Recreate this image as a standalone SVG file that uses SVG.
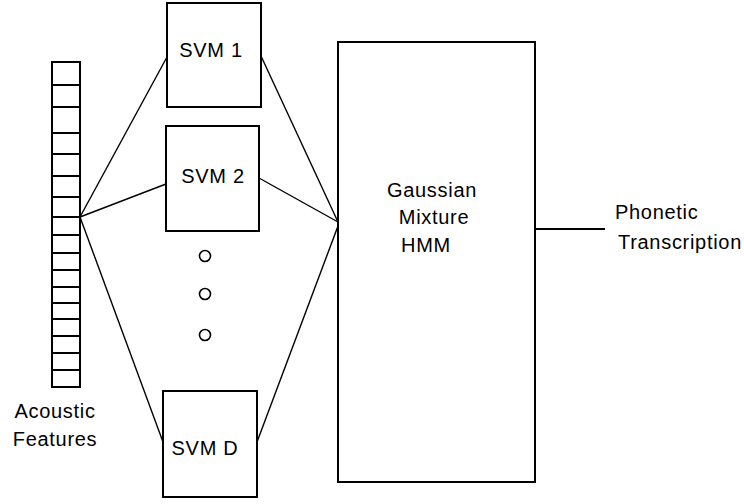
<svg xmlns="http://www.w3.org/2000/svg" width="744" height="504" viewBox="0 0 744 504">
  <style>
    .box { fill: #ffffff; stroke: #000000; stroke-width: 2; }
    .cell { fill: none; stroke: #000000; stroke-width: 2; }
    .wire { fill: none; stroke: #000000; stroke-width: 1.4; }
    .dot { fill: #ffffff; stroke: #000000; stroke-width: 1.6; }
    .lbl { font-family: "Liberation Sans", Arial, sans-serif; font-size: 20px; fill: #000000; letter-spacing: 0.7px; }
    .mid { text-anchor: middle; }
  </style>
  <rect width="744" height="504" fill="#ffffff"/>

  <!-- feature vector column -->
  <g id="acoustic-features">
    <rect class="cell" x="52" y="62" width="28" height="325"/>
    <path class="cell" d="M52 85H80M52 107H80M52 133H80M52 154H80M52 176H80M52 197H80M52 217H80M52 235H80M52 253H80M52 270H80M52 287H80M52 303H80M52 319H80M52 336H80M52 353H80M52 370H80"/>
    <text class="lbl mid" x="55" y="418">Acoustic</text>
    <text class="lbl mid" x="55" y="446">Features</text>
  </g>

  <!-- connectors -->
  <g id="connectors">
    <line class="wire" x1="80" y1="217" x2="167" y2="57"/>
    <line class="wire" x1="80" y1="217" x2="166" y2="184"/>
    <line class="wire" x1="80" y1="217" x2="163" y2="442"/>
    <line class="wire" x1="261" y1="56" x2="338" y2="222"/>
    <line class="wire" x1="259" y1="178" x2="338" y2="222"/>
    <line class="wire" x1="257" y1="442" x2="338" y2="226"/>
    <line class="cell" x1="535" y1="229" x2="605" y2="229"/>
  </g>

  <g id="svm-1">
    <rect class="box" x="167" y="3" width="94" height="104"/>
    <text class="lbl mid" x="211" y="57">SVM 1</text>
  </g>

  <g id="svm-2">
    <rect class="box" x="166" y="126" width="93" height="105"/>
    <text class="lbl mid" x="213" y="183">SVM 2</text>
  </g>

  <!-- ellipsis between SVM 2 and SVM D -->
  <g id="ellipsis">
    <circle class="dot" cx="205" cy="256" r="5.5"/>
    <circle class="dot" cx="205" cy="294" r="5.5"/>
    <circle class="dot" cx="205" cy="335" r="5.5"/>
  </g>

  <g id="svm-d">
    <rect class="box" x="163" y="391" width="94" height="106"/>
    <text class="lbl mid" x="205" y="455">SVM D</text>
  </g>

  <g id="gmm-hmm">
    <rect class="box" x="338" y="42" width="197" height="440"/>
    <text class="lbl mid" x="432" y="197">Gaussian</text>
    <text class="lbl mid" x="434" y="224">Mixture</text>
    <text class="lbl mid" x="426" y="252">HMM</text>
  </g>

  <g id="phonetic-transcription">
    <text class="lbl" x="615" y="219">Phonetic</text>
    <text class="lbl" x="618" y="249">Transcription</text>
  </g>
</svg>
